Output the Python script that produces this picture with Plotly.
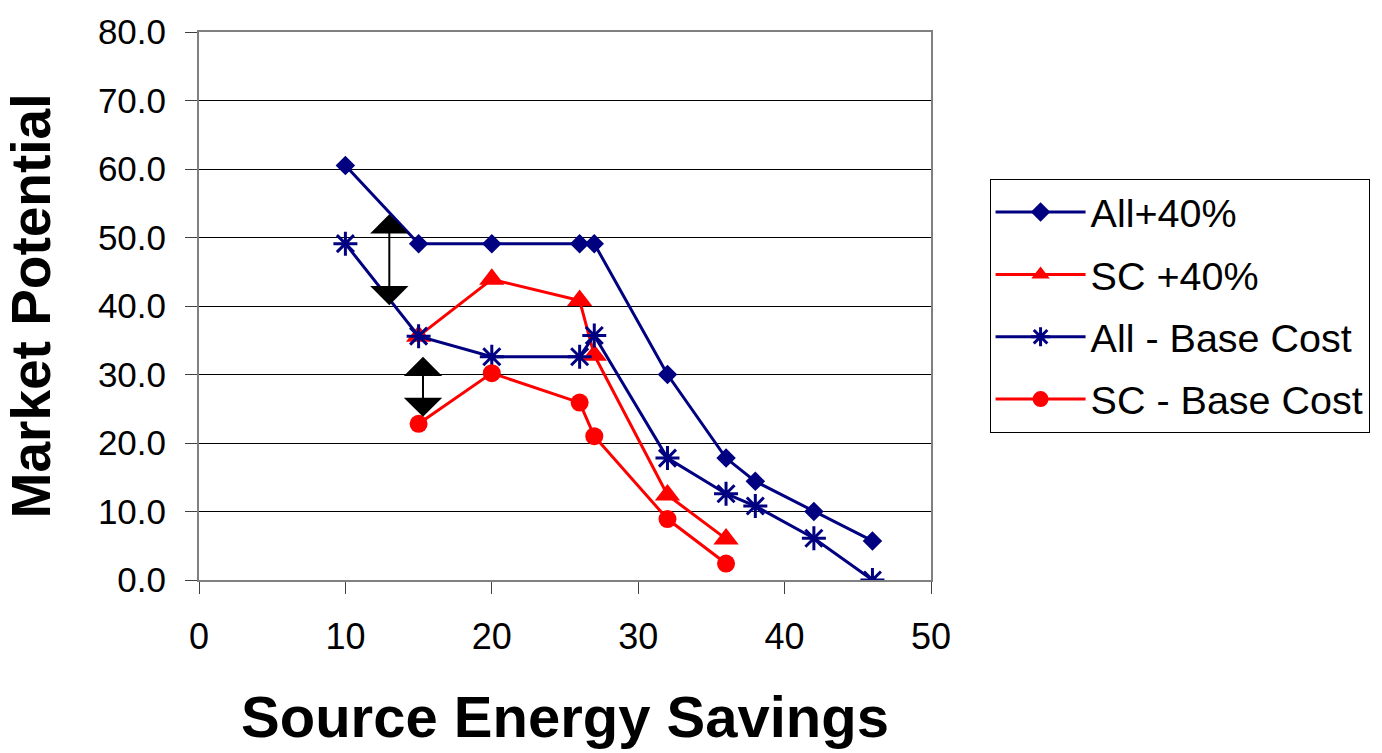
import plotly.graph_objects as go

# Source energy savings (x) for each scenario
x_all = [10, 15, 20, 26, 27, 32, 36, 38, 42, 46]
x_sc = [15, 20, 26, 27, 32, 36]

# Market potential values
all_plus40 = [60.5, 49.1, 49.1, 49.1, 49.1, 30.0, 17.8, 14.4, 10.0, 5.7]
sc_plus40 = [35.6, 43.9, 40.8, 32.8, 12.4, 6.0]
all_base = [49.1, 35.6, 32.6, 32.6, 35.7, 17.8, 12.6, 10.8, 6.1, 0.0]
sc_base = [22.8, 30.2, 25.9, 21.0, 8.9, 2.4]

# Double-headed arrows showing the cost-increase gap: (x, y_top, y_bottom)
gap_arrows = [(13.0, 53.4, 39.9), (15.3, 32.6, 23.6)]

NAVY = "#000080"
RED = "#FF0000"
FONT = "Liberation Sans, Arial, sans-serif"

fig = go.Figure()

fig.add_trace(go.Scatter(
    x=x_all, y=all_plus40, name="All+40%", mode="lines+markers",
    line=dict(color=NAVY, width=3),
    marker=dict(symbol="diamond", size=15, color=NAVY),
    legendgroup="a",
))
fig.add_trace(go.Scatter(
    x=x_sc, y=sc_plus40, name="SC +40%", mode="lines+markers",
    line=dict(color=RED, width=3),
    marker=dict(symbol="triangle-up", size=22, color=RED),
    legendgroup="b",
))
fig.add_trace(go.Scatter(
    x=x_all, y=all_base, name="All - Base Cost", mode="lines+markers",
    line=dict(color=NAVY, width=3),
    marker=dict(symbol="asterisk-open", size=20, color=NAVY,
                line=dict(color=NAVY, width=3)),
    legendgroup="c",
))
fig.add_trace(go.Scatter(
    x=x_sc, y=sc_base, name="SC - Base Cost", mode="lines+markers",
    line=dict(color=RED, width=3),
    marker=dict(symbol="circle", size=18, color=RED),
    legendgroup="d",
))

for ax_x, y_top, y_bot in gap_arrows:
    fig.add_annotation(
        x=ax_x, y=y_top, ax=ax_x, ay=y_bot,
        xref="x", yref="y", axref="x", ayref="y",
        showarrow=True, arrowside="end+start",
        arrowhead=1, startarrowhead=1,
        arrowsize=3.2, startarrowsize=3.2, arrowwidth=2,
        arrowcolor="black", text="",
    )

fig.update_layout(
    width=1382, height=753,
    margin=dict(l=199, r=449, t=28, b=173),
    paper_bgcolor="white", plot_bgcolor="white",
    font=dict(family=FONT, color="black"),
    showlegend=True,
    legend=dict(
        x=1.08, y=0.732, xanchor="left", yanchor="top",
        font=dict(size=39.5, family=FONT),
        bordercolor="black", borderwidth=1,
        traceorder="grouped", tracegroupgap=8,
        itemwidth=90,
    ),
    xaxis=dict(
        range=[0, 50], tickvals=[0, 10, 20, 30, 40, 50],
        ticks="outside", ticklen=12, tickcolor="#404040", tickwidth=1,
        showgrid=False, zeroline=False,
        showline=True, linecolor="#808080", linewidth=2, mirror=True,
        tickfont=dict(size=36, family="Liberation Sans Narrow, " + FONT),
        ticklabelstandoff=12,
        title=dict(text="<b>Source Energy Savings</b>",
                   font=dict(size=58, family=FONT), standoff=40),
    ),
    yaxis=dict(
        range=[0, 80], tickvals=[0, 10, 20, 30, 40, 50, 60, 70, 80],
        tickformat=".1f",
        ticks="outside", ticklen=12, tickcolor="#404040", tickwidth=1,
        showgrid=True, gridcolor="black", gridwidth=1,
        zeroline=False,
        showline=True, linecolor="#808080", linewidth=2, mirror=True,
        tickfont=dict(size=35, family=FONT),
        ticklabelstandoff=12,
        title=dict(text="<b>Market Potential</b>",
                   font=dict(size=55, family=FONT), standoff=30),
    ),
)

fig.write_html("out.html")
